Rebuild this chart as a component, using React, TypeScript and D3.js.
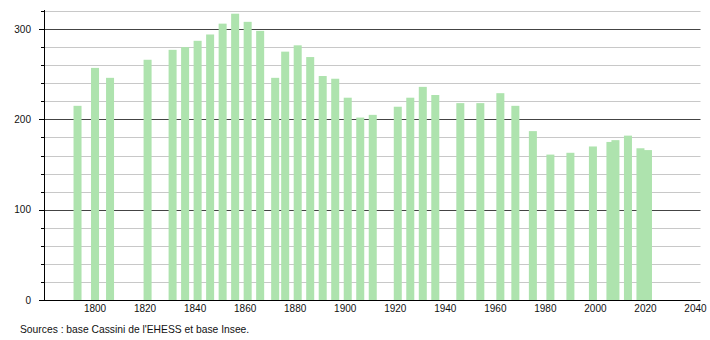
import React from "react";
import * as d3 from "d3";

const years = [
  1793, 1800, 1806, 1821, 1831, 1836, 1841, 1846, 1851, 1856, 1861, 1866, 1872,
  1876, 1881, 1886, 1891, 1896, 1901, 1906, 1911, 1921, 1926, 1931, 1936, 1946,
  1954, 1962, 1968, 1975, 1982, 1990, 1999, 2006, 2008, 2013, 2018, 2021,
];
const population = [
  215, 257, 246, 266, 277, 280, 287, 294, 306, 317, 308, 298, 246, 275, 282,
  269, 248, 245, 224, 202, 205, 214, 224, 236, 227, 218, 218, 229, 215, 187,
  161, 163, 170, 175, 177, 182, 168, 166,
];
const xTicks = [1800, 1820, 1840, 1860, 1880, 1900, 1920, 1940, 1960, 1980, 2000, 2020, 2040];
const yMajor = [0, 100, 200, 300];
const yMinor = [20, 40, 60, 80, 120, 140, 160, 180, 220, 240, 260, 280, 320];
const source = "Sources : base Cassini de l'EHESS et base Insee.";

const W = 710;
const H = 340;
const FONT = "'Liberation Sans', Arial, Helvetica, sans-serif";

export default function App() {
  const x = d3.scaleLinear().domain([1780, 2042]).range([45, 700.5]);
  const y = d3.scaleLinear().domain([0, 320]).range([300, 11]);
  const halfBar = 1.6;
  const left = 44;
  const right = 700.5;

  return (
    <svg
      width={W}
      height={H}
      style={{ position: "absolute", left: 0, top: 0, background: "#fff" }}
      fontFamily={FONT}
    >
      <rect x={0} y={0} width={W} height={H} fill="#fff" />
      {/* minor gridlines */}
      {yMinor.map((v) => (
        <g key={"mi" + v}>
          <line x1={left} x2={right} y1={Math.round(y(v)) + 0.5} y2={Math.round(y(v)) + 0.5} stroke="#c8c8c8" strokeWidth={1} />
          <line x1={left - 3} x2={left} y1={Math.round(y(v)) + 0.5} y2={Math.round(y(v)) + 0.5} stroke="#000" strokeWidth={1} />
        </g>
      ))}
      {/* major gridlines */}
      {yMajor.map((v) => (
        <g key={"ma" + v}>
          {v > 0 && (
            <line x1={left} x2={right} y1={Math.round(y(v)) + 0.5} y2={Math.round(y(v)) + 0.5} stroke="#444" strokeWidth={1} />
          )}
          <line x1={left - 5} x2={left} y1={Math.round(y(v)) + 0.5} y2={Math.round(y(v)) + 0.5} stroke="#000" strokeWidth={1} />
          <text x={31} y={y(v) + 3.5} textAnchor="end" fontSize={10} fill="#111">
            {v}
          </text>
        </g>
      ))}
      {/* bars */}
      {years.map((yr, i) => (
        <rect
          key={yr}
          x={x(yr - halfBar)}
          y={y(population[i])}
          width={x(yr + halfBar) - x(yr - halfBar)}
          height={y(0) - y(population[i])}
          fill="#aee3ae"
        />
      ))}
      {/* axes */}
      <line x1={left + 0.5} x2={left + 0.5} y1={10} y2={300.5} stroke="#000" strokeWidth={1} />
      <line x1={left} x2={right} y1={300.5} y2={300.5} stroke="#000" strokeWidth={1} />
      {xTicks.map((t) => (
        <text key={t} x={x(t)} y={312} textAnchor="middle" fontSize={10} fill="#111">
          {t}
        </text>
      ))}
      <text x={20} y={333} fontSize={10.3} fill="#111">
        {source}
      </text>
    </svg>
  );
}
